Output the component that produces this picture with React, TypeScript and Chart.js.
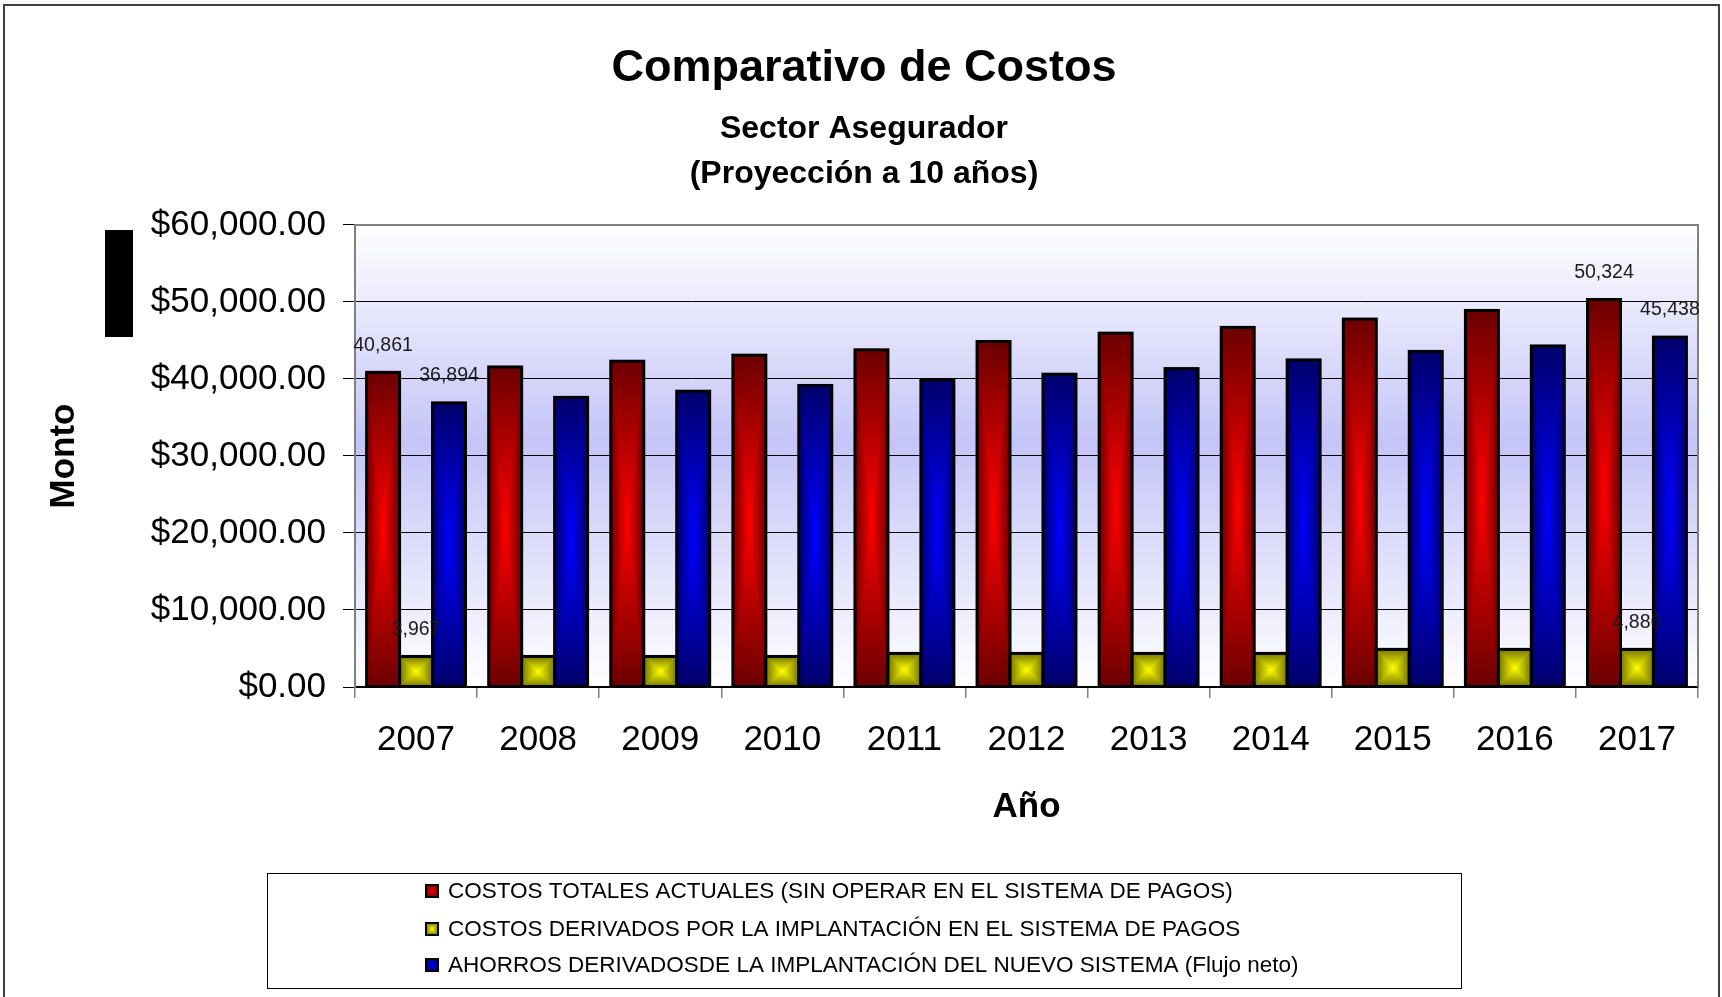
import React, { useEffect, useRef } from 'react';
import { Chart, registerables } from 'chart.js';

Chart.register(...registerables);

const years = ['2007', '2008', '2009', '2010', '2011', '2012', '2013', '2014', '2015', '2016', '2017'];
const costosTotales = [40861, 41560, 42310, 43090, 43790, 44870, 45950, 46700, 47780, 48900, 50324];
const costosImplantacion = [3967, 3967, 3967, 3967, 4364, 4364, 4364, 4364, 4886, 4886, 4886];
const ahorros = [36894, 37610, 38410, 39160, 39880, 40620, 41350, 42480, 43580, 44290, 45438];
const seriesLabels = [
  'COSTOS TOTALES ACTUALES (SIN OPERAR EN EL SISTEMA DE PAGOS)',
  'COSTOS DERIVADOS POR LA IMPLANTACIÓN EN EL SISTEMA DE PAGOS',
  'AHORROS DERIVADOSDE LA IMPLANTACIÓN DEL NUEVO SISTEMA (Flujo neto)',
];
const labeledIndices = [0, 10];
const yMin = 0;
const yMax = 60000;
const yStep = 10000;

const FONT = 'Arial, "Liberation Sans", sans-serif';
const edgeColors = ['#6c0000', '#747400', '#00006c'];
const centerColors = ['#ff0000', '#ffff00', '#0000ff'];

function rectGradient(ctx: CanvasRenderingContext2D, l: number, t: number, r: number, b: number, edge: string, center: string) {
  const cx = (l + r) / 2;
  const cy = (t + b) / 2;
  const parts: { pts: number[][]; g: number[] }[] = [
    { pts: [[l, t], [l, b], [cx, cy]], g: [l, cy, cx, cy] },
    { pts: [[r, t], [r, b], [cx, cy]], g: [r, cy, cx, cy] },
    { pts: [[l, t], [r, t], [cx, cy]], g: [cx, t, cx, cy] },
    { pts: [[l, b], [r, b], [cx, cy]], g: [cx, b, cx, cy] },
  ];
  ctx.save();
  ctx.beginPath();
  ctx.rect(l, t, r - l, b - t);
  ctx.clip();
  ctx.fillStyle = edge;
  ctx.fillRect(l, t, r - l, b - t);
  for (const p of parts) {
    if (p.g[0] === p.g[2] && p.g[1] === p.g[3]) continue;
    const g = ctx.createLinearGradient(p.g[0], p.g[1], p.g[2], p.g[3]);
    g.addColorStop(0, edge);
    g.addColorStop(1, center);
    ctx.beginPath();
    ctx.moveTo(p.pts[0][0], p.pts[0][1]);
    ctx.lineTo(p.pts[1][0], p.pts[1][1]);
    ctx.lineTo(p.pts[2][0], p.pts[2][1]);
    ctx.closePath();
    ctx.fillStyle = g;
    ctx.fill();
    ctx.strokeStyle = g;
    ctx.lineWidth = 1;
    ctx.stroke();
  }
  ctx.restore();
}

const decorPlugin = {
  id: 'decor',
  beforeDraw(chart: any) {
    const { ctx, chartArea } = chart;
    ctx.save();
    ctx.fillStyle = '#ffffff';
    ctx.fillRect(0, 0, chart.width, chart.height);
    const g = ctx.createLinearGradient(0, chartArea.top, 0, chartArea.bottom);
    g.addColorStop(0, '#ffffff');
    g.addColorStop(0.47, '#c4c4f8');
    g.addColorStop(1, '#ffffff');
    ctx.fillStyle = g;
    ctx.fillRect(chartArea.left, chartArea.top, chartArea.right - chartArea.left, chartArea.bottom - chartArea.top);
    ctx.restore();
  },
  afterDatasetsDraw(chart: any) {
    const { ctx, chartArea } = chart;
    ctx.save();
    chart.data.datasets.forEach((ds: any, di: number) => {
      const meta = chart.getDatasetMeta(di);
      meta.data.forEach((el: any) => {
        const { x, y, base, width } = el.getProps(['x', 'y', 'base', 'width'], true);
        const l = x - width / 2;
        const r = x + width / 2;
        const t = Math.min(y, base);
        const b = Math.max(y, base);
        rectGradient(ctx, l, t, r, b, edgeColors[di], centerColors[di]);
        ctx.lineWidth = 3;
        ctx.strokeStyle = '#000000';
        ctx.strokeRect(l, t, r - l, b - t);
      });
    });
    // plot frame top & right
    ctx.strokeStyle = '#808080';
    ctx.lineWidth = 2;
    ctx.beginPath();
    ctx.moveTo(chartArea.left, chartArea.top);
    ctx.lineTo(chartArea.right, chartArea.top);
    ctx.lineTo(chartArea.right, chartArea.bottom);
    ctx.stroke();
    // data labels
    ctx.font = `19.5px ${FONT}`;
    ctx.fillStyle = '#1a1a1a';
    ctx.textAlign = 'center';
    ctx.textBaseline = 'middle';
    chart.data.datasets.forEach((ds: any, di: number) => {
      const meta = chart.getDatasetMeta(di);
      labeledIndices.forEach((i) => {
        const el = meta.data[i];
        if (!el) return;
        const v = ds.data[i] as number;
        ctx.fillText(v.toLocaleString('en-US'), el.x, el.y - 27);
      });
    });
    ctx.restore();
  },
  afterDraw(chart: any) {
    const { ctx } = chart;
    ctx.save();
    // outer frame
    ctx.strokeStyle = '#404040';
    ctx.lineWidth = 2;
    ctx.beginPath();
    ctx.moveTo(4, chart.height + 5);
    ctx.lineTo(4, 5);
    ctx.lineTo(1719, 5);
    ctx.lineTo(1719, chart.height + 5);
    ctx.stroke();
    // stray black block
    ctx.fillStyle = '#000000';
    ctx.fillRect(105, 230, 28, 107);
    // legend
    ctx.strokeStyle = '#000000';
    ctx.lineWidth = 1;
    ctx.strokeRect(267.5, 873.5, 1194, 115);
    const rowsY = [891, 929, 965];
    ctx.font = `22.5px ${FONT}`;
    ctx.textAlign = 'left';
    ctx.textBaseline = 'middle';
    seriesLabels.forEach((lab, i) => {
      const y = rowsY[i];
      rectGradient(ctx, 426, y - 6, 438, y + 6, edgeColors[i], centerColors[i]);
      ctx.lineWidth = 2;
      ctx.strokeStyle = '#000000';
      ctx.strokeRect(426, y - 6, 12, 12);
      ctx.fillStyle = '#000000';
      ctx.fillText(lab, 448, y + 1);
    });
    ctx.restore();
  },
};

export default function App() {
  const canvasRef = useRef<HTMLCanvasElement | null>(null);

  useEffect(() => {
    if (!canvasRef.current) return;
    Chart.defaults.font.family = FONT;
    Chart.defaults.color = '#000000';
    const chart = new Chart(canvasRef.current, {
      type: 'bar',
      data: {
        labels: years,
        datasets: [
          { label: seriesLabels[0], data: costosTotales, backgroundColor: centerColors[0], borderWidth: 0 },
          { label: seriesLabels[1], data: costosImplantacion, backgroundColor: centerColors[1], borderWidth: 0 },
          { label: seriesLabels[2], data: ahorros, backgroundColor: centerColors[2], borderWidth: 0 },
        ],
      },
      options: {
        responsive: false,
        animation: false,
        devicePixelRatio: 1,
        datasets: { bar: { categoryPercentage: 0.81, barPercentage: 1 } },
        layout: { padding: { left: 30, right: 24, top: 0, bottom: 168 } },
        plugins: {
          legend: { display: false },
          tooltip: { enabled: false },
          title: {
            display: true,
            text: 'Comparativo de Costos',
            color: '#000000',
            font: { size: 45, weight: 'bold', family: FONT, lineHeight: 1.2 },
            padding: { top: 42, bottom: 0 },
          },
          subtitle: {
            display: true,
            text: ['Sector Asegurador', '(Proyección a 10 años)'],
            color: '#000000',
            font: { size: 32, weight: 'bold', family: FONT, lineHeight: 1.42 },
            padding: { top: 10.3, bottom: 27.8 },
          },
        },
        scales: {
          x: {
            offset: true,
            afterFit: (s: any) => { s.height = 142; },
            grid: {
              display: true,
              drawOnChartArea: false,
              drawTicks: true,
              tickLength: 11,
              color: '#808080',
              lineWidth: 1.5,
              offset: true,
            },
            border: { display: true, color: '#000000', width: 2 },
            ticks: { color: '#000000', font: { size: 35, family: FONT }, padding: 21, maxRotation: 0 },
            title: {
              display: true,
              text: 'Año',
              color: '#000000',
              font: { size: 35, weight: 'bold', family: FONT, lineHeight: 1.2 },
              padding: { top: 0, bottom: 1 },
            },
          },
          y: {
            min: yMin,
            max: yMax,
            afterFit: (s: any) => { s.width = 325; },
            grid: { color: '#000000', lineWidth: 1, tickLength: 12, drawTicks: true },
            border: { display: true, color: '#808080', width: 2 },
            ticks: {
              stepSize: yStep,
              color: '#000000',
              padding: 17,
              font: { size: 35, family: FONT },
              callback: (v: any) => '$' + Number(v).toLocaleString('en-US', { minimumFractionDigits: 2, maximumFractionDigits: 2 }),
            },
            title: {
              display: true,
              text: 'Monto',
              color: '#000000',
              font: { size: 35, weight: 'bold', family: FONT, lineHeight: 1.2 },
              padding: { top: 13, bottom: 0 },
            },
          },
        },
      },
      plugins: [decorPlugin],
    } as any);
    return () => chart.destroy();
  }, []);

  return (
    <div style={{ position: 'absolute', left: 0, top: 0, width: 1722, height: 997, background: '#ffffff' }}>
      <canvas ref={canvasRef} width={1722} height={997} style={{ display: 'block', width: 1722, height: 997 }} />
    </div>
  );
}
